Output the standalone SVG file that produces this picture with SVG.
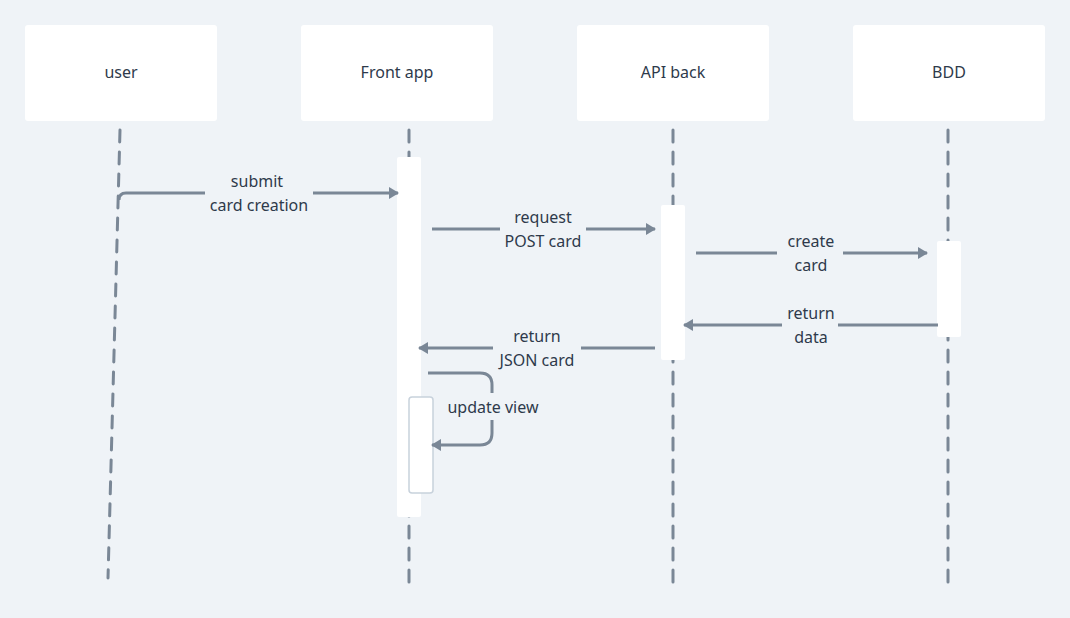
<svg xmlns="http://www.w3.org/2000/svg" width="1070" height="618" viewBox="0 0 1070 618">
<defs>
<style>
.box{fill:#ffffff;}
.lbl{font-family:"Noto Sans","DejaVu Sans",sans-serif;font-size:16px;fill:#2e3a4b;text-anchor:middle;}
.life{fill:none;stroke:#7a8796;stroke-width:3;stroke-dasharray:12 10;stroke-linecap:round;}
.act{fill:#ffffff;}
.msg{fill:none;stroke:#7a8796;stroke-width:3;}
</style>
<marker id="ah" viewBox="0 0 10 12" refX="9" refY="6" markerWidth="10" markerHeight="12" markerUnits="userSpaceOnUse" orient="auto">
<path d="M0,0 L10,6 L0,12 z" fill="#7a8796"/>
</marker>
</defs>
<rect width="1070" height="618" fill="#eff3f7"/>
<g id="lifelines">
<path class="life" d="M120,130 L108,578"/>
<path class="life" d="M409,130 L409,582"/>
<path class="life" d="M673,130 L673,582"/>
<path class="life" d="M948,130 L948,582"/>
</g>
<g id="user"><rect class="box" x="25" y="25" width="192" height="96" rx="3"/><text class="lbl" x="121" y="78">user</text></g>
<g id="front"><rect class="box" x="301" y="25" width="192" height="96" rx="3"/><text class="lbl" x="397" y="78">Front app</text></g>
<g id="api"><rect class="box" x="577" y="25" width="192" height="96" rx="3"/><text class="lbl" x="673" y="78">API back</text></g>
<g id="bdd"><rect class="box" x="853" y="25" width="192" height="96" rx="3"/><text class="lbl" x="949" y="78">BDD</text></g>
<g id="activations">
<rect class="act" x="397" y="157" width="24" height="360" rx="2"/>
<rect class="act" x="661" y="205" width="24" height="155" rx="2"/>
<rect class="act" x="937" y="241" width="24" height="96" rx="2"/>
<rect x="409" y="397" width="24" height="96" rx="3" fill="#ffffff" stroke="#c8d2dc" stroke-width="1.5"/>
</g>
<g id="connectors">
<path class="msg" d="M119,200 Q119,193 126,193 L205,193"/>
<path class="msg" d="M313,193 L398,193" marker-end="url(#ah)"/>
<text class="lbl" x="257" y="187">submit</text>
<text class="lbl" x="259" y="211">card creation</text>

<path class="msg" d="M432,229 L500,229"/>
<path class="msg" d="M586,229 L655,229" marker-end="url(#ah)"/>
<text class="lbl" x="543" y="223">request</text>
<text class="lbl" x="543" y="247">POST card</text>

<path class="msg" d="M696,253 L777,253"/>
<path class="msg" d="M843,253 L927,253" marker-end="url(#ah)"/>
<text class="lbl" x="811" y="247">create</text>
<text class="lbl" x="811" y="271">card</text>

<path class="msg" d="M938,325 L838,325"/>
<path class="msg" d="M782,325 L684,325" marker-end="url(#ah)"/>
<text class="lbl" x="811" y="319">return</text>
<text class="lbl" x="811" y="343">data</text>

<path class="msg" d="M655,348 L581,348"/>
<path class="msg" d="M493,348 L419,348" marker-end="url(#ah)"/>
<text class="lbl" x="537" y="342">return</text>
<text class="lbl" x="537" y="366">JSON card</text>

<path class="msg" d="M428,373 L480,373 Q492,373 492,385 L492,393"/>
<path class="msg" d="M492,420 L492,433 Q492,445 480,445 L432,445" marker-end="url(#ah)"/>
<text class="lbl" x="493" y="413">update view</text>
</g>
</svg>
